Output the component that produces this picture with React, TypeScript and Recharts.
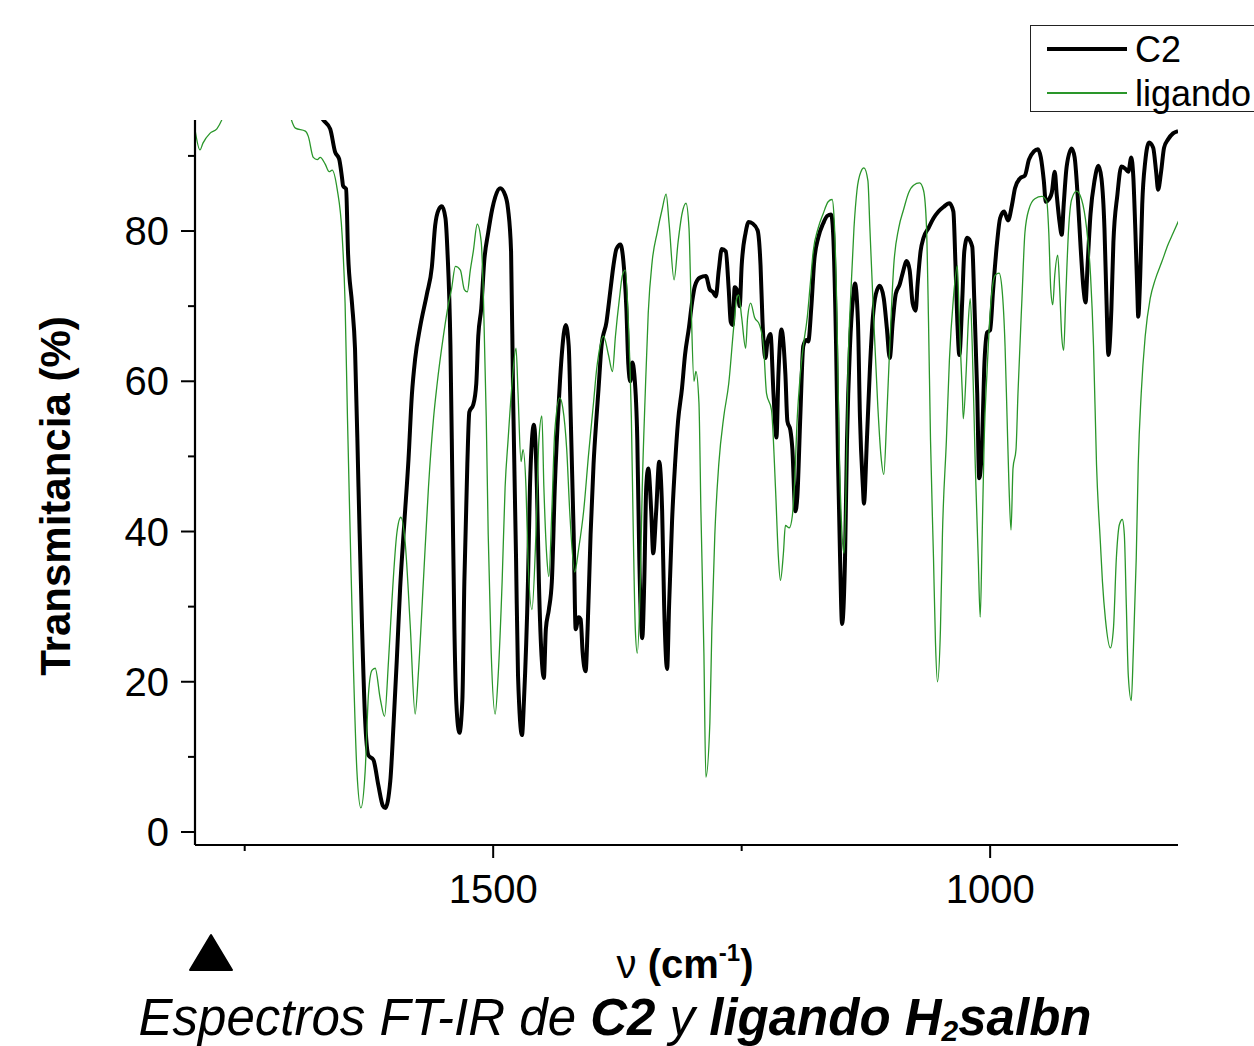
import React from 'react';
import { LineChart, Line, XAxis, YAxis, Legend } from 'recharts';

// FT-IR spectra: [wavenumber (cm-1), transmittance (%)]
const C2_SPECTRUM: [number, number][] = [
  [1800,100],[1700,100],[1682,97.5],[1671,94.8],[1664,93.6],[1659,90.5],[1655,89.6],[1652,87],[1651,86],[1648,85.6],[1646,77],[1642,70.3],[1639,64.3],[1635.5,45.9],[1632,27.6],[1629,15.4],[1625.5,10.2],[1620.5,9.6],[1615.5,6.2],[1611,3.5],[1608.5,3.2],[1603.5,6.8],[1600.3,14.2],[1597,22.8],[1593.6,32.5],[1589.5,41],[1585.2,49.6],[1581.8,58.2],[1578.5,63],[1573.4,67.3],[1566.7,71.6],[1561.7,75.2],[1558.4,80.7],[1555,82.8],[1551.6,83.3],[1548,81.7],[1546,77.3],[1543,64.7],[1541,45.9],[1539,27],[1537,17],[1534,13.2],[1531,17.6],[1529,33.3],[1526,49],[1524,55.9],[1520,56.9],[1517,59.7],[1515,66],[1512,69.7],[1509,76],[1505,79.8],[1501,82.9],[1498,84.5],[1493,85.7],[1488,84.8],[1485,82.9],[1482,77.3],[1480,58.4],[1477,36.5],[1475,20.8],[1471,12.9],[1469,17.6],[1465,33.3],[1463,45.9],[1461,52.2],[1459,54.2],[1456,45.9],[1454,33.3],[1451,22.7],[1449,20.5],[1447,27],[1444,29.6],[1441,33.3],[1438,45.9],[1434,57.2],[1431,63.5],[1427,67.5],[1424,64.7],[1422,55.3],[1419,39.6],[1417,27],[1414,28.6],[1412,28.3],[1410,23.9],[1407,21.4],[1405,27],[1402,39.6],[1399,49],[1396,55.3],[1394,59],[1391,64.7],[1386,67.9],[1382,72.2],[1379,75.4],[1376,77.6],[1372,78.2],[1369,76],[1366,69.7],[1364,62.2],[1362,60],[1360,62.5],[1358,60.9],[1355,52.2],[1353,36.5],[1350,25.8],[1348,33.3],[1346,45.9],[1344,48.4],[1341,42.7],[1339,37.1],[1336,42.7],[1333,49.3],[1330,42.7],[1328,30.2],[1325,21.7],[1323,30.2],[1320,41.5],[1317,49],[1314,54.7],[1310,59.1],[1307,63.5],[1303,67.2],[1300,70.4],[1297,72.7],[1292,73.8],[1286,74],[1282,72.2],[1279,71.9],[1276,71.3],[1273,74.8],[1270,77.6],[1266,77.3],[1263,72.2],[1261,67.9],[1259,67.5],[1257,72.5],[1254,71.9],[1252,70],[1250,75.4],[1246,79.8],[1243,81.2],[1239,81],[1234,80.1],[1231,75.4],[1229,67.9],[1226,63.1],[1224,65.3],[1221,66.3],[1218,58.4],[1215,52.5],[1213,60.9],[1210,66.9],[1206,60.9],[1204,54.7],[1201,53.5],[1199,51],[1196,42.7],[1194,44.6],[1191,55.3],[1188,64.7],[1185,65.5],[1183,65.3],[1180,69.7],[1177,76],[1173,79.1],[1168,81],[1164,82],[1160,82.2],[1158,79.8],[1155,64.7],[1153,49],[1151,36.5],[1149,27.7],[1146,36.5],[1144,52.2],[1141,64.7],[1138,71],[1136,73],[1133,67.9],[1131,55.3],[1128,45.9],[1127,43.7],[1124,52.2],[1121,61.6],[1118,68.5],[1115,71.6],[1111,72.7],[1107,71],[1104,67.2],[1101,63.1],[1098,67.9],[1095,71.6],[1091,72.9],[1088,74.4],[1084,76],[1081,74.8],[1078,70.4],[1075,69.4],[1073,72.9],[1070,77.3],[1067,79.1],[1062,80.4],[1057,81.7],[1052,82.6],[1047,83.2],[1041,83.7],[1037,82.6],[1035,76],[1033,67.9],[1031,63.5],[1028,71],[1026,77.3],[1023,79.1],[1018,77.9],[1016,71],[1013,58.4],[1011,47.1],[1008,52.2],[1006,61.6],[1003,66.5],[1000,66.8],[997,72.2],[993,78.5],[990,81.7],[986,82.6],[982,81.4],[978,83.5],[975,85.7],[970,87],[965,87.4],[961,89.5],[956,90.6],[952,90.9],[949,89.8],[946,86.7],[944,83.9],[941,84.2],[938,85.1],[935,87.9],[933,84.8],[930,81],[928,79.5],[926,83.5],[923,88.6],[918,91],[915,89.8],[912,84.8],[909,77.9],[906,72.2],[904,70.5],[902,75.4],[899,82.3],[895,86.7],[891,88.7],[888,87],[885,80.4],[883,71],[881,63.5],[878,69.7],[876,78.5],[872,84.8],[868,88.6],[864,88.3],[861,87.9],[858,89.8],[856,87.3],[854,80.4],[852,72.2],[851,68.6],[849,74.1],[847,83.5],[844,89.2],[840,91.8],[836,91.1],[833,87.9],[831,85.5],[828,87.9],[825,91.1],[821,92.2],[816,93],[811,93.3],
];

const LIGANDO_SPECTRUM: [number, number][] = [
  [1800,93.5],[1795,90.8],[1792,91.7],[1785,93],[1778,93.6],[1773,94.8],[1765,98],[1750,100],[1715,100],[1707,97],[1703,94.8],[1699,93.7],[1689,93.3],[1686,92.6],[1681,89.8],[1677,89.5],[1674,89.8],[1669,88.9],[1665,87.9],[1662,88.1],[1657,85.6],[1652,79.5],[1649,70.4],[1646.6,55.1],[1643.9,39.8],[1640.5,21.5],[1637.1,8.1],[1633.1,3.2],[1628.8,8.1],[1625.4,18.5],[1622,21.5],[1618.7,21.8],[1613.7,17.8],[1609.3,15.4],[1605.3,22.8],[1601.9,30.7],[1596.9,39.8],[1592.9,41.9],[1588.6,38.6],[1583.5,27.6],[1578.5,15.7],[1575.1,21.5],[1570.1,33.7],[1565.1,45.9],[1560,55.1],[1556.6,59.4],[1550,66.1],[1545,70.3],[1542,72.2],[1538,75.3],[1533,74.8],[1529,72.2],[1526,71.9],[1523,74.8],[1520,77.3],[1516,80.9],[1512,78.5],[1510,72.2],[1507,55.3],[1505,39.6],[1502,23.9],[1498,15.7],[1495,20.8],[1491,33.3],[1488,45.9],[1485,52.2],[1481,59.7],[1477,64.4],[1475,58.4],[1472,49.3],[1470,50.9],[1467,45.9],[1465,36.5],[1461,29.6],[1457,39.6],[1454,52.2],[1451,55.4],[1449,45.9],[1446,36.5],[1444,34],[1441,42.7],[1438,53.4],[1433,57.8],[1430,56.5],[1426,50.9],[1423,42.7],[1418,34.6],[1414,37.7],[1409,42.7],[1404,50.3],[1399,57.2],[1396,61.5],[1394,63.5],[1389,66],[1384,63.5],[1380,61.3],[1377,66],[1373,71],[1370,74.1],[1367,74.8],[1364,67.9],[1361,55.3],[1359,39.6],[1357,27],[1355,23.8],[1352,33.3],[1350,45.9],[1347,58.4],[1344,69.1],[1340,76],[1335,79.8],[1330,82.9],[1326,84.9],[1323,81],[1318,73.5],[1314,78.5],[1310,82.3],[1306,83.7],[1303,80.4],[1301,71],[1298,60],[1296,61.3],[1293,57.2],[1291,42.7],[1288,23.9],[1286,7.3],[1282,14.5],[1280,27],[1277,39.6],[1273,49],[1268,55.3],[1263,59.7],[1258,67.2],[1255,71],[1253,71.5],[1250,68.5],[1246,64.4],[1244,68.5],[1241,70.4],[1237,68.5],[1232,67.5],[1228,64.7],[1225,58.4],[1220,56.2],[1216,45.9],[1213,36.5],[1211,33.5],[1208,37.1],[1206,40.8],[1202,40.5],[1199,42.1],[1197,45.9],[1194,55.3],[1191,60.9],[1188,64.7],[1184,68.5],[1181,72.9],[1178,77.3],[1173,80.4],[1168,82.3],[1163,83.9],[1159,84.2],[1157,81.7],[1154,67.9],[1152,52.2],[1149,39.6],[1147,37.1],[1145,45.9],[1143,61.6],[1140,72.2],[1137,80.4],[1134,85.4],[1130,87.9],[1127,88.4],[1123,86.7],[1121,80.4],[1117,67.9],[1113,56.6],[1110,50.3],[1107,47.6],[1104,55.3],[1101,64.7],[1097,75.4],[1092,80.4],[1087,82.9],[1082,85.1],[1077,86.1],[1071,86.4],[1067,85.4],[1064,80.4],[1062,67.9],[1060,52.2],[1057,36.5],[1055,25.2],[1053,20],[1050,27],[1048,39.6],[1044,52.2],[1041,62.8],[1037,71],[1033,75.4],[1031,67.9],[1028,58.4],[1027,55],[1024,61.6],[1022,67.9],[1020,71],[1018,64.7],[1015,49],[1012,36.5],[1010,28.6],[1008,39.6],[1006,52.2],[1003,61.6],[1001,67],[998,72.2],[995,74.1],[991,74.4],[988,72.2],[985,64.7],[983,55.3],[981,45.9],[979,40.2],[977,48.4],[974,50.9],[972,58.4],[968,71],[965,79.8],[961,82.9],[955,84.3],[948,84.6],[943,83.9],[941,79.8],[939,72.2],[937,70.2],[935,74.1],[932,76.8],[930,72.2],[928,66],[926,64.1],[924,71],[921,80.4],[918,84.2],[913,85.3],[908,84.2],[903,80.4],[899,74.1],[896,64.7],[893,49],[889,38.3],[887,33.3],[884,28.3],[879,24.5],[876,27],[873,36.5],[870,40.9],[867,41.6],[865,39.6],[863,30.2],[861,20.8],[858,17.5],[856,23.9],[853,36.5],[851,49],[848,58.4],[844,66],[839,71],[834,73.5],[827,76],[821,78.2],[816,79.7],[810,81.5],
];

const SERIES_NAMES = ['C2', 'ligando'];
const X_TICKS = [1750, 1500, 1250, 1000];
const X_LABELED = [1500, 1000];
const Y_TICKS = [0, 10, 20, 30, 40, 50, 60, 70, 80, 90];
const Y_LABELED = [0, 20, 40, 60, 80];

const c2Data = C2_SPECTRUM.map(([wn, t]) => ({ wn, t }));
const ligandoData = LIGANDO_SPECTRUM.map(([wn, t]) => ({ wn, t }));

const FONT = '"Liberation Sans", Arial, Helvetica, sans-serif';
const GREEN = '#2a962a';

const XTick = (props: any) => {
  const { x, y, payload } = props;
  const major = X_LABELED.includes(payload.value);
  return (
    <g>
      <line x1={x} x2={x} y1={y} y2={y + (major ? 13 : 6)} stroke="#000" strokeWidth={2} />
      {major && (
        <text x={x} y={y + 58} textAnchor="middle" fontSize={40} fontFamily={FONT} fill="#000">
          {payload.value}
        </text>
      )}
    </g>
  );
};

const YTick = (props: any) => {
  const { x, y, payload } = props;
  const major = Y_LABELED.includes(payload.value);
  return (
    <g>
      <line x1={x - (major ? 14 : 7)} x2={x} y1={y} y2={y} stroke="#000" strokeWidth={2} />
      {major && (
        <text x={x - 26} y={y + 14} textAnchor="end" fontSize={40} fontFamily={FONT} fill="#000">
          {payload.value}
        </text>
      )}
    </g>
  );
};

const renderLegend = (props: any) => {
  const payload = props.payload || [];
  return (
    <div
      style={{
        boxSizing: 'border-box',
        width: 232,
        height: 87,
        border: '1.3px solid #222',
        background: '#fff',
        position: 'relative',
        fontFamily: FONT,
      }}
    >
      {payload.map((entry: any, i: number) => (
        <div key={entry.value} style={{ position: 'absolute', left: 0, top: i * 44, width: 232, height: 44 }}>
          <div
            style={{
              position: 'absolute',
              left: 16,
              top: 23 - (i === 0 ? 2 : 0.6),
              width: 80,
              height: i === 0 ? 4 : 1.3,
              background: entry.color,
            }}
          />
          <div
            style={{
              position: 'absolute',
              left: 104,
              top: 6,
              fontSize: 36,
              lineHeight: '36px',
              color: '#000',
              whiteSpace: 'nowrap',
            }}
          >
            {entry.value}
          </div>
        </div>
      ))}
    </div>
  );
};

export default function App() {
  return (
    <div style={{ position: 'absolute', left: 0, top: 0, width: 1254, height: 1046, background: '#fff', overflow: 'hidden' }}>
      <LineChart width={1254} height={1046} margin={{ top: 120, right: 76, bottom: 121, left: 115 }}>
        <XAxis
          dataKey="wn"
          type="number"
          domain={[811, 1800]}
          reversed
          allowDataOverflow
          ticks={X_TICKS}
          interval={0}
          tickSize={0}
          tickMargin={0}
          tickLine={false}
          tick={<XTick />}
          height={80}
          axisLine={{ stroke: '#000', strokeWidth: 2.2 }}
          label={{
            value: 'ν (cm-1)',
            content: () => (
              <text x={685} y={978} textAnchor="middle" fontSize={40} fontFamily={FONT} fontWeight="bold" fill="#000">
                <tspan fontWeight="normal">ν</tspan> (cm
                <tspan dy={-17} fontSize={24}>-1</tspan>
                <tspan dy={17}>)</tspan>
              </text>
            ),
          }}
        />
        <YAxis
          type="number"
          domain={[-1.73, 94.78]}
          allowDataOverflow
          ticks={Y_TICKS}
          interval={0}
          tickSize={0}
          tickMargin={0}
          tickLine={false}
          tick={<YTick />}
          width={80}
          axisLine={{ stroke: '#000', strokeWidth: 2.2 }}
          label={{
            value: 'Transmitancia (%)',
            content: () => (
              <text
                transform="translate(70,496) rotate(-90)"
                textAnchor="middle"
                fontSize={42}
                fontFamily={FONT}
                fontWeight="bold"
                fill="#000"
              >
                Transmitancia (%)
              </text>
            ),
          }}
        />
        <Legend
          layout="horizontal"
          verticalAlign="middle"
          align="center"
          wrapperStyle={{ position: 'absolute', left: 1030, top: 25, width: 232, height: 87 }}
          content={renderLegend}
        />
        <Line
          data={c2Data}
          dataKey="t"
          name={SERIES_NAMES[0]}
          type="monotone"
          stroke="#000"
          strokeWidth={4}
          dot={false}
          activeDot={false}
          isAnimationActive={false}
        />
        <Line
          data={ligandoData}
          dataKey="t"
          name={SERIES_NAMES[1]}
          type="monotone"
          stroke={GREEN}
          strokeWidth={1.3}
          dot={false}
          activeDot={false}
          isAnimationActive={false}
        />
      </LineChart>
      <svg
        width={1254}
        height={1046}
        style={{ position: 'absolute', left: 0, top: 0, pointerEvents: 'none' }}
      >
        <polygon points="190,970 232,970 211,935" fill="#000" stroke="#000" strokeWidth={2} strokeLinejoin="round" />
        <text x={615} y={1035} textAnchor="middle" fontSize={51} fontStyle="italic" fontFamily={FONT} fill="#000">
          Espectros FT-IR de <tspan fontWeight="bold">C2</tspan> y{' '}
          <tspan fontWeight="bold">
            ligando H
            <tspan dy={6} fontSize={30}>2</tspan>
            <tspan dy={-6}>salbn</tspan>
          </tspan>
        </text>
      </svg>
    </div>
  );
}
